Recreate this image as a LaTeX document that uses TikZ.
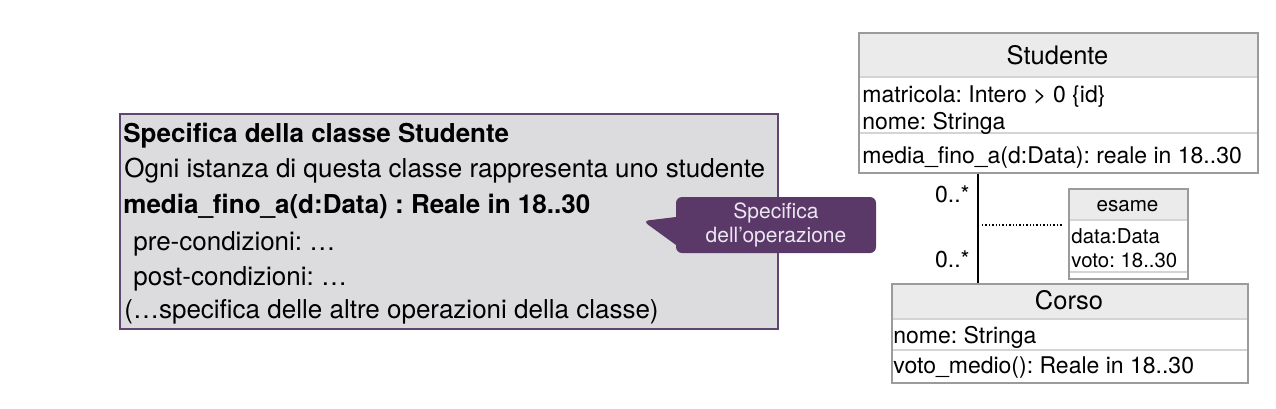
\documentclass[tikz,border=0pt]{standalone}
\usepackage{fontspec}
\setmainfont{TeX Gyre Heros}
\usepackage{tikz}
\usepackage{xcolor}
\usetikzlibrary{arrows.meta,positioning,calc,shapes.callouts}
\frenchspacing
\definecolor{SpecFill}{RGB}{220,220,222}
\definecolor{SpecLine}{RGB}{94,70,112}
\definecolor{NoteFill}{RGB}{90,56,104}
\definecolor{NoteText}{RGB}{236,230,242}
\definecolor{HeadGray}{RGB}{235,235,235}
\definecolor{BoxGray}{RGB}{155,155,155}
\definecolor{SepGray}{RGB}{212,212,212}
\tikzset{
  spectxt/.style={anchor=base west, inner sep=0pt, font=\fontsize{13}{15}\selectfont},
  clstxt/.style={anchor=base west, inner sep=0pt, font=\fontsize{11.5}{13}\selectfont},
  clshead/.style={anchor=base, inner sep=0pt, font=\fontsize{12.75}{14}\selectfont},
  smalltxt/.style={anchor=base west, inner sep=0pt, font=\fontsize{10.2}{12}\selectfont},
  classbox/.style={draw=BoxGray, line width=0.75pt, inner sep=0pt, anchor=north west},
  sepline/.style={draw=SepGray, line width=1pt}
}

\begin{document}
\begin{tikzpicture}[x=0.5pt, y=-0.5pt]
        \useasboundingbox (0,0) rectangle (1276,408);
        % specifica della classe
        \node[draw=SpecLine, fill=SpecFill, line width=1pt, inner sep=0pt, anchor=north west,
              minimum width=329pt, minimum height=107.5pt] (spec) at (119,113) {};
        \node[spectxt, font=\fontsize{13}{15}\selectfont\bfseries] (s1) at (123,142) {Specifica della classe Studente};
        \node[spectxt] (s2) at (124,177) {Ogni istanza di questa classe rappresenta uno studente};
        \node[spectxt, font=\fontsize{13}{15}\selectfont\bfseries] (s3) at (123,213) {media\_fino\_a(d:Data) : Reale in 18..30};
        \node[spectxt] (s4) at (133,250) {pre-condizioni: …};
        \node[spectxt] (s5) at (133,285) {post-condizioni: …};
        \node[spectxt] (s6) at (124,318) {(…specifica delle altre operazioni della classe)};
        % nota
        \node[rectangle callout, callout absolute pointer={(643,221)}, callout pointer width=14pt,
              fill=NoteFill, rounded corners=3pt, minimum width=100pt, minimum height=28pt,
              inner sep=0pt, align=center, text=NoteText,
              font=\fontsize{10.5}{12}\selectfont] (note) at (776,225) {Specifica\\dell'operazione};
        % classe Studente
        \fill[HeadGray] (858,32) rectangle (1257,77);
        \draw[sepline] (858,77) -- (1257,77);
        \draw[sepline] (858,133) -- (1257,133);
        \node[classbox, minimum width=199.5pt, minimum height=70pt] (stud) at (858,32) {};
        \node[clshead] (studname) at (1057.5,64) {Studente};
        \node[clstxt] (studa1) at (862,102) {matricola: Intero > 0 \{id\}};
        \node[clstxt] (studa2) at (862,129) {nome: Stringa};
        \node[clstxt] (studo1) at (862,163) {media\_fino\_a(d:Data): reale in 18..30};
        % classe Corso
        \fill[HeadGray] (891,283) rectangle (1247,319);
        \draw[sepline] (891,319) -- (1247,319);
        \draw[sepline] (891,350) -- (1247,350);
        \node[classbox, minimum width=178pt, minimum height=49.5pt] (corso) at (891,283) {};
        \node[clshead] (corsoname) at (1069,309) {Corso};
        \node[clstxt] (corsoa1) at (893,343) {nome: Stringa};
        \node[clstxt] (corsoo1) at (893,373) {voto\_medio(): Reale in 18..30};
        % classe associativa esame
        \fill[HeadGray] (1068,188) rectangle (1187,220);
        \draw[sepline] (1068,220) -- (1187,220);
        \draw[sepline] (1068,272) -- (1187,272);
        \node[classbox, minimum width=59.5pt, minimum height=45pt] (esame) at (1068,188) {};
        \node[clshead, font=\fontsize{10.3}{12}\selectfont] (esamename) at (1127.5,211) {esame};
        \node[smalltxt] (esamea1) at (1071,243) {data:Data};
        \node[smalltxt] (esamea2) at (1071,267) {voto: 18..30};
        % associazione
        \coordinate (assoc) at (978,0);
        \coordinate (link) at (982,225);
        \draw[line width=0.75pt] (stud.south -| assoc) -- (corso.north -| assoc);
        \draw[line width=0.6pt, dash pattern=on 0.7pt off 1pt, shorten >=3pt] (link) -- (esame.west |- link);
        \node[clstxt, anchor=base east] (m1) at (970,202) {0..*};
        \node[clstxt, anchor=base east] (m2) at (970,267) {0..*};
      \end{tikzpicture}
\end{document}
